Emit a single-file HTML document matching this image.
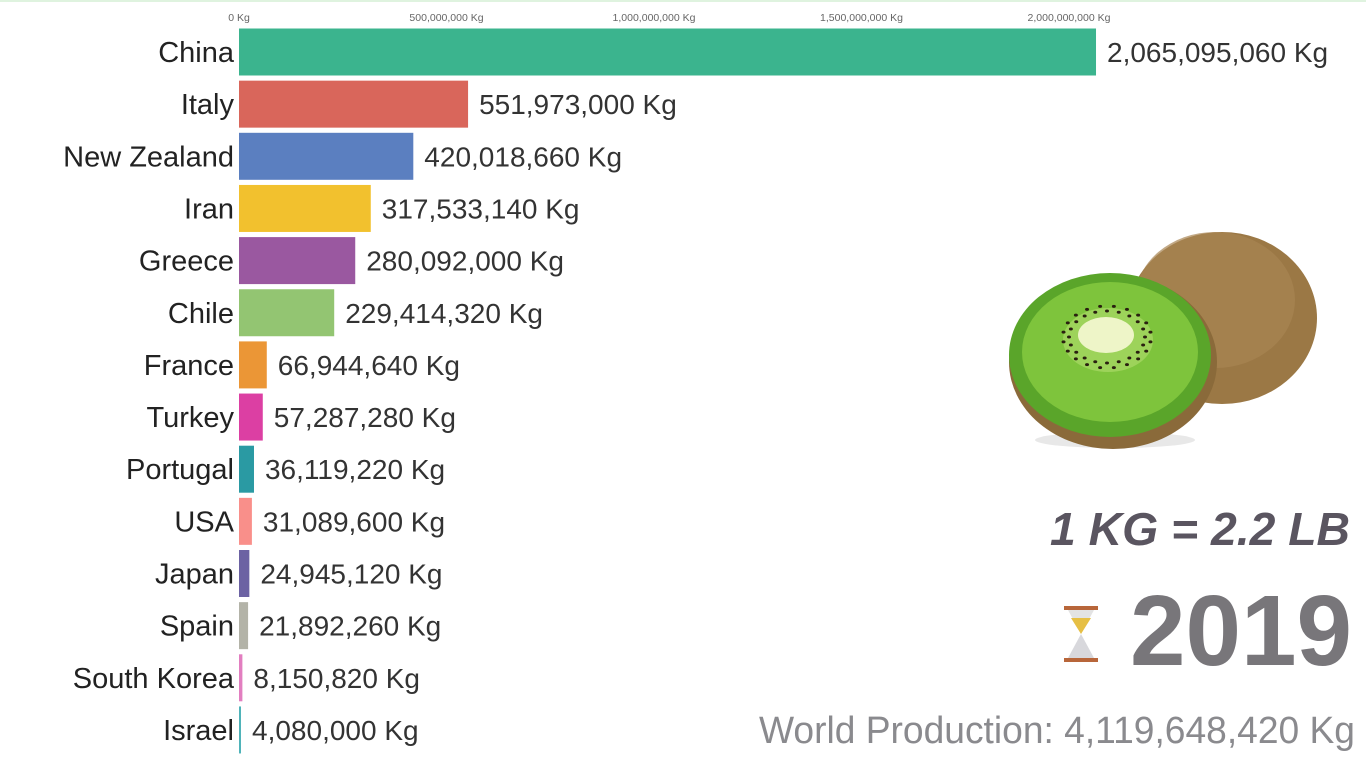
<!DOCTYPE html>
<html><head><meta charset="utf-8"><style>
html,body{margin:0;padding:0;background:#fff;}
svg{display:block;font-family:"Liberation Sans",sans-serif;}
</style></head><body>
<svg id="chart" width="1366" height="768" viewBox="0 0 1366 768">
<rect x="0" y="0" width="1366" height="768" fill="#fff"/>
<rect x="0" y="0" width="1366" height="2" fill="#dff3df"/>
<g id="axis"></g>
<g id="bars"></g>
<g>
  <ellipse cx="1222" cy="318" rx="95" ry="86" fill="#9b7845"/>
  <ellipse cx="1215" cy="300" rx="80" ry="68" fill="#a88552" opacity="0.7"/>
  <ellipse cx="1115" cy="440" rx="80" ry="8" fill="#e8e8e8"/>
  <ellipse cx="1113" cy="362" rx="104" ry="87" fill="#8a6a3a"/>
  <ellipse cx="1110" cy="355" rx="101" ry="82" fill="#5aa52a"/>
  <ellipse cx="1110" cy="352" rx="88" ry="70" fill="#7ec43c"/>
  <ellipse cx="1108" cy="340" rx="45" ry="32" fill="#9dd35a"/>
  <ellipse cx="1106" cy="335" rx="28" ry="18" fill="#eef5c8"/>
  <g id="seeds" fill="#2a2010"></g>
</g>
<text x="1350" y="545" text-anchor="end" font-size="46" font-weight="bold" font-style="italic" fill="#5a5560" textLength="300" lengthAdjust="spacingAndGlyphs">1 KG = 2.2 LB</text>
<g>
  <rect x="1064" y="606" width="34" height="4" fill="#b8663a"/>
  <rect x="1064" y="658" width="34" height="4" fill="#b8663a"/>
  <path d="M1068 610 L1094 610 L1081 634 Z" fill="#e3e3e3"/>
  <path d="M1071 618 L1091 618 L1081 634 Z" fill="#e6bf45"/>
  <path d="M1081 634 L1094 658 L1068 658 Z" fill="#d8d8dc"/>
</g>
<text x="1352" y="665" text-anchor="end" font-size="100" font-weight="bold" fill="#78767a" textLength="222" lengthAdjust="spacingAndGlyphs">2019</text>
<text x="1355" y="743" text-anchor="end" font-size="38" fill="#8a8a8e" textLength="596" lengthAdjust="spacingAndGlyphs">World Production: 4,119,648,420 Kg</text>
</svg>
<script>
const countries=["China","Italy","New Zealand","Iran","Greece","Chile","France","Turkey","Portugal","USA","Japan","Spain","South Korea","Israel"];
const values=[2065095060,551973000,420018660,317533140,280092000,229414320,66944640,57287280,36119220,31089600,24945120,21892260,8150820,4080000];
const colors=["#3bb48e","#d9665b","#5b7fc0","#f2c12e","#9a58a0","#93c572","#eb9636","#dc3fa3","#2a9aa3","#f98f8a","#6c62a3","#b3b3a8","#e27ec0","#4fb3b9"];
const ticks=[0,500000000,1000000000,1500000000,2000000000];
const NS="http://www.w3.org/2000/svg";
const x0=239,pxPer=830/2000000000;
function xs(v){return x0+v*pxPer;}
function ys(i){return 52+i*52.15;}
function fmt(v){return v.toLocaleString("en-US")+" Kg";}
const ax=document.getElementById("axis");
ticks.forEach(t=>{
  const tx=document.createElementNS(NS,"text");
  tx.setAttribute("x",xs(t));tx.setAttribute("y",21);
  tx.setAttribute("text-anchor","middle");tx.setAttribute("font-size","10.5");tx.setAttribute("fill","#666");
  tx.textContent=fmt(t);
  
  
  ax.appendChild(tx);
});
const g=document.getElementById("bars");
countries.forEach((c,i)=>{
  const cy=ys(i);
  const r=document.createElementNS(NS,"rect");
  r.setAttribute("x",x0);r.setAttribute("y",cy-23.5);
  r.setAttribute("width",Math.max(2,xs(values[i])-x0));r.setAttribute("height",47);
  r.setAttribute("fill",colors[i]);
  
  
  g.appendChild(r);
  const n=document.createElementNS(NS,"text");
  n.setAttribute("x",234);n.setAttribute("y",cy+10);n.setAttribute("text-anchor","end");
  n.setAttribute("font-size","29");n.setAttribute("fill","#222");
  n.textContent=c;
  
  
  g.appendChild(n);
  const v=document.createElementNS(NS,"text");
  v.setAttribute("x",Math.max(2,xs(values[i])-x0)+x0+11);v.setAttribute("y",cy+10);
  v.setAttribute("font-size","28");v.setAttribute("fill","#333");
  v.textContent=fmt(values[i]);
  
  
  g.appendChild(v);
});
const s=document.getElementById("seeds");
for(let k=0;k<40;k++){
  const a=k/40*Math.PI*2;
  const e=document.createElementNS(NS,"ellipse");
  e.setAttribute("cx",1107+Math.cos(a)*(38+(k%2)*6));
  e.setAttribute("cy",337+Math.sin(a)*(26+(k%2)*5));
  e.setAttribute("rx",2);e.setAttribute("ry",1.5);
  
  
  s.appendChild(e);
}
</script>
</body></html>
